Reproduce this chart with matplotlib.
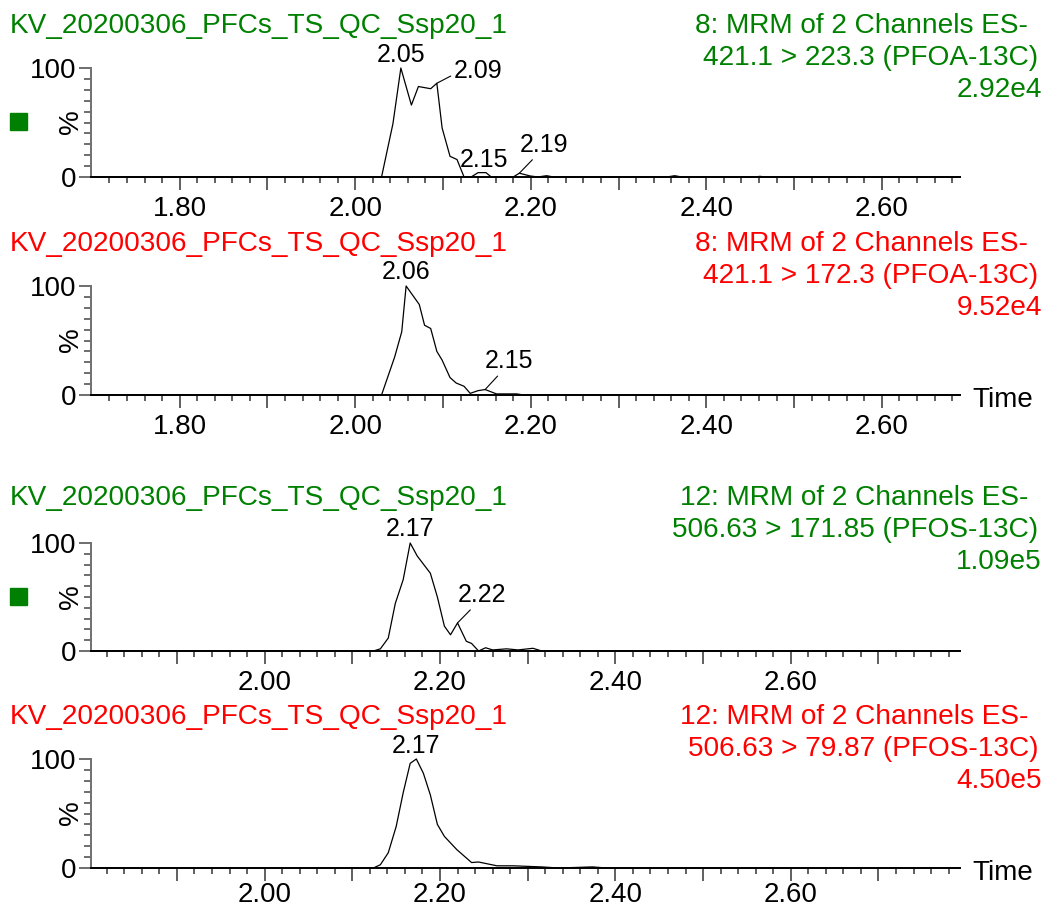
import numpy as np
import matplotlib.pyplot as plt
from matplotlib.patches import Rectangle
from matplotlib.ticker import FixedLocator, FuncFormatter

plt.rcParams['font.family'] = ['Liberation Sans', 'DejaVu Sans']

GREEN = '#008000'
RED = '#ff0000'
W, H = 1047, 910

sample = 'KV_20200306_PFCs_TS_QC_Ssp20_1'
func_lines = ['8: MRM of 2 Channels ES-', '8: MRM of 2 Channels ES-',
              '12: MRM of 2 Channels ES-', '12: MRM of 2 Channels ES-']
transitions = ['421.1 > 223.3 (PFOA-13C)', '421.1 > 172.3 (PFOA-13C)',
               '506.63 > 171.85 (PFOS-13C)', '506.63 > 79.87 (PFOS-13C)']
max_counts = ['2.92e4', '9.52e4', '1.09e5', '4.50e5']

# time windows (min)
win_pfoa = (1.699, 2.689)
win_pfos = (1.802, 2.793)

# traces: retention time (min) / relative intensity (%)
t1 = [1.699, 2.030, 2.043, 2.052, 2.064, 2.072, 2.086, 2.093, 2.099, 2.108, 2.116, 2.124,
      2.132, 2.140, 2.149, 2.155, 2.180, 2.187, 2.199, 2.208, 2.218, 2.226, 2.355, 2.364,
      2.372, 2.455, 2.461, 2.468, 2.689]
i1 = [0, 0, 49, 100, 66, 83, 81, 86, 45, 19, 16, 0,
      0, 4, 4, 0, 0, 3.5, 1, 0, 1.2, 0, 0, 1.2,
      0, 0, 0.6, 0, 0]

t2 = [1.699, 2.030, 2.045, 2.053, 2.058, 2.073, 2.079, 2.086, 2.093, 2.099, 2.108, 2.115,
      2.124, 2.131, 2.140, 2.148, 2.161, 2.184, 2.192, 2.689]
i2 = [0, 0, 35, 58, 100, 83, 64, 61, 40, 32, 16, 11,
      8, 1.5, 4, 5, 1, 1, 0, 0]

t3 = [1.802, 2.124, 2.132, 2.141, 2.149, 2.158, 2.166, 2.174, 2.189, 2.197, 2.205, 2.212,
      2.220, 2.230, 2.236, 2.244, 2.252, 2.260, 2.276, 2.289, 2.306, 2.316, 2.793]
i3 = [0, 0, 2, 12, 44, 66, 100, 88, 72, 50, 23, 15,
      26, 9, 7, 0, 3, 1, 2, 1, 2.5, 0, 0]

t4 = [1.802, 2.124, 2.132, 2.141, 2.150, 2.158, 2.166, 2.173, 2.181, 2.189, 2.197, 2.205,
      2.219, 2.236, 2.244, 2.265, 2.284, 2.316, 2.335, 2.374, 2.390, 2.793]
i4 = [0, 0, 3, 14, 38, 69, 96, 100, 87, 67, 40, 29,
      17, 5, 5.5, 2, 2, 1, 0, 1, 0, 0]

# labelled peaks
peaks1 = [2.052, 2.093, 2.149, 2.187]
names1 = ['2.05', '2.09', '2.15', '2.19']
peaks2 = [2.058, 2.148]
names2 = ['2.06', '2.15']
peaks3 = [2.166, 2.220]
names3 = ['2.17', '2.22']
peaks4 = [2.173]
names4 = ['2.17']

# label placement: offset (pt) and leader attach point (None = no leader)
lay1 = [(0, 4, None), (12, 3.8, (0, 0.35)), (-1.4, 4, None), (0.5, 15.3, (0.31, 0))]
lay2 = [(0, 4.8, None), (0, 15.3, (0.31, 0))]
lay3 = [(0, 4.8, None), (0, 15, (0.32, 0))]
lay4 = [(0, 4.3, None)]

fig = plt.figure(figsize=(W / 100, H / 100), dpi=100)


def make_axes(left, top, right, bottom):
    return fig.add_axes([left / W, 1 - bottom / H, (right - left) / W, (bottom - top) / H])


def label_fmt(v, pos):
    return f'{v:.2f}' if round(v * 10) % 2 == 0 else ''


def draw_panel(ax, t, inten, xlim, xpad):
    ax.plot(t, inten, color='black', lw=0.9, clip_on=False)
    ax.set_xlim(xlim)
    ax.set_ylim(0, 100)
    ax.patch.set_alpha(0)
    ax.spines['top'].set_visible(False)
    ax.spines['right'].set_visible(False)
    ax.spines['bottom'].set_color('black')
    ax.spines['bottom'].set_linewidth(1.4)
    ax.spines['left'].set_color('#707070')
    ax.spines['left'].set_linewidth(1.4)

    grid = np.round(np.arange(1.60, 2.90, 0.02), 2)
    inside = [v for v in grid if xlim[0] + 0.005 < v < xlim[1]]
    major = [v for v in inside if abs(v * 10 - round(v * 10)) < 1e-6]
    ax.xaxis.set_major_locator(FixedLocator(major))
    ax.xaxis.set_minor_locator(FixedLocator(inside))
    ax.xaxis.set_major_formatter(FuncFormatter(label_fmt))
    ax.tick_params(axis='x', which='major', length=9.4, width=1.2, color='#444444',
                   pad=xpad, labelsize=20)
    ax.tick_params(axis='x', which='minor', length=4.5, width=1.2, color='#444444')

    ax.set_yticks([0, 100])
    ax.set_yticklabels(['0', '100'])
    ax.set_yticks(np.arange(10, 100, 10), minor=True)
    ax.tick_params(axis='y', which='major', length=8.6, width=1.2, color='#555555',
                   pad=2, labelsize=20)
    ax.tick_params(axis='y', which='minor', length=5, width=1.2, color='#555555')


def label_peaks(ax, t, inten, times, names, layout):
    for tp, name, (dx, dy, rel) in zip(times, names, layout):
        yp = np.interp(tp, t, inten)
        if rel is None:
            ax.annotate(name, (tp, yp), xytext=(dx, dy), textcoords='offset points',
                        ha='center', va='baseline', fontsize=18, annotation_clip=False)
        else:
            ax.annotate(name, (tp, yp), xytext=(dx, dy), textcoords='offset points',
                        ha='left', va='baseline', fontsize=18, annotation_clip=False,
                        arrowprops=dict(arrowstyle='-', lw=0.8, color='black',
                                        shrinkA=0, shrinkB=0, relpos=rel))


traces = [(t1, i1, win_pfoa, peaks1, names1, lay1),
          (t2, i2, win_pfoa, peaks2, names2, lay2),
          (t3, i3, win_pfos, peaks3, names3, lay3),
          (t4, i4, win_pfos, peaks4, names4, lay4)]
tops = [68, 286, 543, 759]
bottoms = [177, 395, 651, 868]
xpads = [4.2, 4.2, 4.2, 1.0]
title_base = [33, 251, 505, 724]
colors = [GREEN, RED, GREEN, RED]

for k, (t, inten, win, pk, nm, lay) in enumerate(traces):
    ax = make_axes(91, tops[k], 960, bottoms[k])
    draw_panel(ax, t, inten, win, xpads[k])
    label_peaks(ax, t, inten, pk, nm, lay)

    c = colors[k]
    b = title_base[k]
    fig.text(10 / W, 1 - b / H, sample, color=c, fontsize=20.2, ha='left', va='baseline')
    fig.text(1028 / W, 1 - b / H, func_lines[k], color=c, fontsize=20.2, ha='right', va='baseline')
    fig.text(1038 / W, 1 - (b + 32) / H, transitions[k], color=c, fontsize=20.2,
             ha='right', va='baseline')
    fig.text(1042 / W, 1 - (b + 64) / H, max_counts[k], color=c, fontsize=20.2,
             ha='right', va='baseline')

    fig.text(71 / W, 1 - (tops[k] + 54) / H, '%', fontsize=20, rotation=90,
             ha='center', va='center')

    if c == GREEN:
        fig.patches.append(Rectangle((10 / W, 1 - (tops[k] + 62) / H), 17 / W, 17 / H,
                                     transform=fig.transFigure, color=GREEN))
    if k % 2 == 1:
        fig.text(972 / W, 1 - (bottoms[k] + 12) / H, 'Time', fontsize=20,
                 ha='left', va='baseline')

fig.savefig('out.png', dpi=100)
